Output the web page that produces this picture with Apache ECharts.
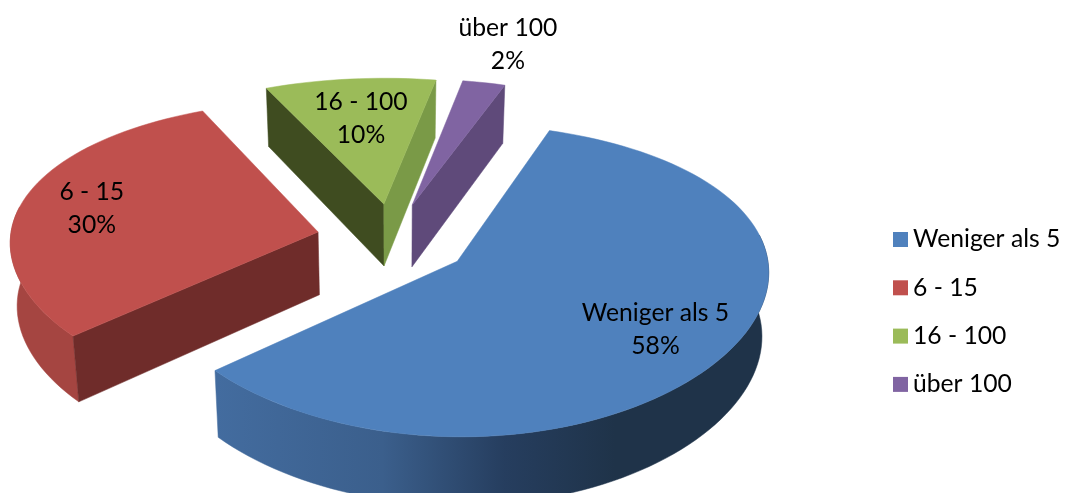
<!DOCTYPE html>
<html>
<head>
<meta charset="utf-8">
<style>
  html, body { margin: 0; padding: 0; background: #fff; }
  #chart { width: 1069px; height: 493px; }
</style>
<script src="https://cdn.jsdelivr.net/npm/echarts@6/dist/echarts.min.js"></script>
</head>
<body>
<div id="chart"></div>
<script>
// values (labels show them rounded)
var categories = ['Weniger als 5', '6 - 15', '16 - 100', 'über 100'];
var shares = [58.4, 29.6, 9.6, 2.4];

var topColors = ['#4f81bd', '#c0504d', '#9bbb59', '#8064a2'];
var startWall = [null, '#6f2c2a', '#3f4c20', null];
var endWall = [null, null, '#7a9a47', '#5f4a7a'];
var labelRadius = [0.745, 0.765, 0.66, 1.36];

// fake 3d view: disk of radius 1 seen with some perspective
var CX = 393, CY = 240, RX = 308, RY = 149, KX = 0.06, KY = 0.12;
var DEPTH = 63, BOTTOM = 0.982, EXPLODE = 0.25, FIRST_ANGLE = 19;
var FONT = 'Lato, "Open Sans", sans-serif';

var total = shares.reduce(function (a, b) { return a + b; }, 0);

function rad(a) { return a * Math.PI / 180; }

function project(u, v, low) {
  var sx = 1 + KX * v, sy = 1 + KY * v;
  if (!low) return [CX + RX * u / sx, CY - RY * v / sy];
  return [CX + RX * BOTTOM * u / sx, CY - RY * v / sy + DEPTH / (1 + 0.07 * v)];
}

function sliceAngles(i) {
  var a = FIRST_ANGLE;
  for (var n = 0; n < i; n++) a += shares[n] / total * 360;
  return [a, a + shares[i] / total * 360];
}

function arc(ox, oy, a0, a1, low) {
  var pts = [];
  var steps = Math.max(4, Math.ceil((a1 - a0) / 2));
  for (var n = 0; n <= steps; n++) {
    var t = rad(a0 + (a1 - a0) * n / steps);
    pts.push(project(ox + Math.sin(t), oy + Math.cos(t), low));
  }
  return pts;
}

function poly(points, fill) {
  return { type: 'polygon', shape: { points: points }, style: { fill: fill, stroke: fill, lineWidth: 0.5 } };
}

function wallFill(i) {
  if (i === 0) {
    return new echarts.graphic.LinearGradient(216, 0, 770, 0, [
      { offset: 0, color: '#436c9f' },
      { offset: 0.3, color: '#3b5f8c' },
      { offset: 0.52, color: '#263e5f' },
      { offset: 0.72, color: '#1f3349' },
      { offset: 1, color: '#1f3349' }
    ], true);
  }
  return i === 1 ? '#a54541' : '#666';
}

function renderSlice(i) {
  var ang = sliceAngles(i);
  var mid = rad((ang[0] + ang[1]) / 2);
  var ox = EXPLODE * Math.sin(mid), oy = EXPLODE * Math.cos(mid);
  var kids = [];

  // outer wall, only the part turned to the viewer
  var w0 = Math.max(ang[0], 80), w1 = Math.min(ang[1], 280);
  if (w1 > w0) {
    kids.push(poly(arc(ox, oy, w0, w1, false).concat(arc(ox, oy, w0, w1, true).reverse()), wallFill(i)));
  }
  // cut faces
  [[ang[0], startWall[i]], [ang[1], endWall[i]]].forEach(function (w) {
    if (!w[1]) return;
    var t = rad(w[0]);
    kids.push(poly([
      project(ox, oy, false),
      project(ox + Math.sin(t), oy + Math.cos(t), false),
      project(ox + Math.sin(t), oy + Math.cos(t), true),
      project(ox, oy, true)
    ], w[1]));
  });
  // top
  kids.push(poly([project(ox, oy, false)].concat(arc(ox, oy, ang[0], ang[1], false)), topColors[i]));
  // label
  var f = labelRadius[i];
  var p = project(ox + f * Math.sin(mid), oy + f * Math.cos(mid), false);
  kids.push({
    type: 'text',
    z2: 10,
    style: {
      x: p[0], y: p[1],
      text: categories[i] + '\n' + Math.round(shares[i] / total * 100) + '%',
      align: 'center', verticalAlign: 'middle',
      font: '24.7px ' + FONT, lineHeight: 33, fill: '#000'
    }
  });
  return { type: 'group', children: kids };
}

var series = categories.map(function (name, i) {
  return {
    name: name,
    type: 'custom',
    coordinateSystem: 'none',
    silent: true,
    animation: false,
    itemStyle: { color: topColors[i] },
    data: [[shares[i]]],
    renderItem: function () { return renderSlice(i); }
  };
});

var chart = echarts.init(document.getElementById('chart'), null, { renderer: 'canvas' });
chart.setOption({
  backgroundColor: '#fff',
  animation: false,
  legend: {
    data: categories,
    orient: 'vertical',
    left: 893,
    top: 227,
    padding: 0,
    icon: 'rect',
    itemWidth: 15,
    itemHeight: 15,
    itemGap: 23.3,
    selectedMode: false,
    textStyle: { fontFamily: 'Lato, "Open Sans", sans-serif', fontSize: 24.7, color: '#000', padding: 0, lineHeight: 15 }
  },
  series: series
});
</script>
</body>
</html>
